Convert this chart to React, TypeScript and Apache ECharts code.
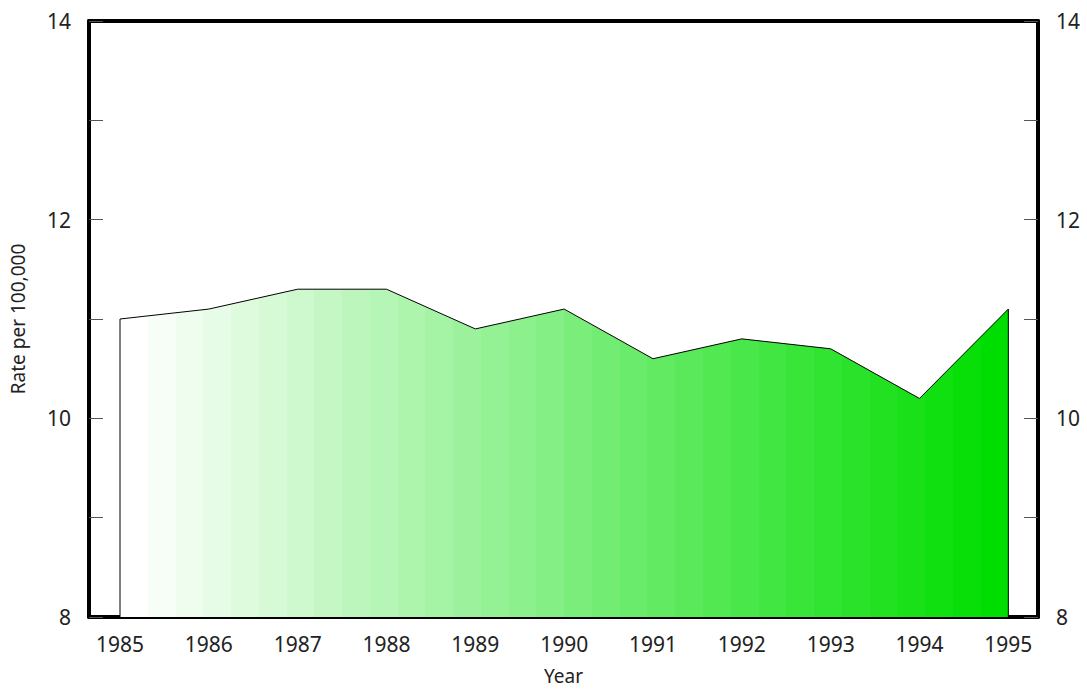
import React, { useEffect, useRef } from "react";
import * as echarts from "echarts";

const years = [1985, 1986, 1987, 1988, 1989, 1990, 1991, 1992, 1993, 1994, 1995];
const rates = [11.0, 11.1, 11.3, 11.3, 10.9, 11.1, 10.6, 10.8, 10.7, 10.2, 11.1];
const yMin = 8;
const yMax = 14;

const FONT = "Noto Sans";
const TXT = "#222";

function steppedGradient() {
  const n = 32;
  const stops: { offset: number; color: string }[] = [];
  for (let i = 0; i < n; i++) {
    const t = i / (n - 1);
    const r = Math.round(255 * (1 - t));
    const g = Math.round(255 + (221 - 255) * t);
    const b = Math.round(255 * (1 - t));
    const c = `rgb(${r},${g},${b})`;
    stops.push({ offset: i / n, color: c });
    stops.push({ offset: (i + 1) / n, color: c });
  }
  return new echarts.graphic.LinearGradient(0, 0, 1, 0, stops);
}

export default function App() {
  const ref = useRef<HTMLDivElement>(null);
  useEffect(() => {
    document.body.style.margin = "0";
    const chart = echarts.init(ref.current!, null, { renderer: "svg" });
    const pts = years.map((y, i) => [y, rates[i]]);
    const first = [[years[0], yMin], [years[0], rates[0]]];
    const last = [[years[years.length - 1], yMin], [years[years.length - 1], rates[rates.length - 1]]];
    const yAxisCommon = {
      type: "value",
      min: yMin,
      max: yMax,
      interval: 1,
      splitLine: { show: false },
      axisLine: { show: true, lineStyle: { color: "#000", width: 4 } },
      axisTick: { show: true, inside: true, length: 14, lineStyle: { color: "#555", width: 1 } },
      axisLabel: {
        color: TXT,
        fontFamily: FONT,
        fontSize: 21,
        margin: 18,
        formatter: (v: number) => (v % 2 === 0 ? String(v) : ""),
      },
    };
    chart.setOption({
      animation: false,
      backgroundColor: "#fff",
      grid: { left: 88, right: 49, top: 21, bottom: 69 },
      xAxis: [
        {
          type: "value",
          min: 1984.651,
          max: 1995.334,
          position: "bottom",
          splitLine: { show: false },
          axisLine: { show: true, onZero: false, lineStyle: { color: "#000", width: 4 } },
          axisTick: { show: false },
          axisLabel: {
            customValues: years,
            color: TXT,
            fontFamily: FONT,
            fontSize: 21,
            margin: 16,
            formatter: (v: number) => String(v),
          },
          name: "Year",
          nameLocation: "middle",
          nameGap: 49,
          nameTextStyle: { color: TXT, fontFamily: FONT, fontSize: 19 },
        },
        {
          type: "value",
          min: 1984.651,
          max: 1995.334,
          position: "top",
          splitLine: { show: false },
          axisLine: { show: true, onZero: false, lineStyle: { color: "#000", width: 4 } },
          axisTick: { show: false },
          axisLabel: { show: false },
        },
      ],
      yAxis: [
        {
          ...yAxisCommon,
          position: "left",
          name: "Rate per 100,000",
          nameLocation: "middle",
          nameGap: 62,
          nameRotate: 90,
          nameTextStyle: { color: TXT, fontFamily: FONT, fontSize: 19 },
        },
        { ...yAxisCommon, position: "right" },
      ],
      series: [
        {
          type: "line",
          data: pts,
          symbol: "none",
          lineStyle: { color: "#000", width: 1 },
          areaStyle: { color: steppedGradient(), opacity: 1, origin: "start" },
          z: 2,
        },
        {
          type: "line",
          data: first,
          symbol: "none",
          lineStyle: { color: "#000", width: 1 },
          z: 3,
        },
        {
          type: "line",
          data: last,
          symbol: "none",
          lineStyle: { color: "#000", width: 1 },
          z: 3,
        },
      ],
    });
    return () => chart.dispose();
  }, []);
  return <div ref={ref} style={{ width: 1087, height: 690 }} />;
}
